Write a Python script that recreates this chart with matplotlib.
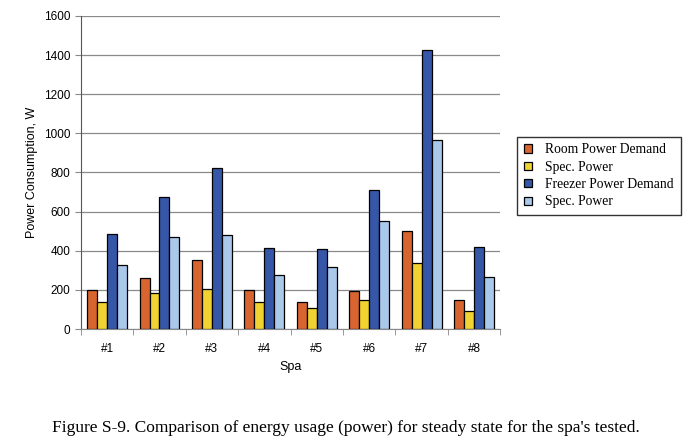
import numpy as np
import matplotlib.pyplot as plt

spas = ['#1', '#2', '#3', '#4', '#5', '#6', '#7', '#8']
room_demand = [200, 260, 353, 199, 137, 194, 502, 148]
room_spec = [138, 183, 205, 138, 107, 150, 338, 92]
freezer_demand = [485, 674, 824, 414, 410, 710, 1426, 419]
freezer_spec = [327, 469, 479, 277, 318, 551, 965, 265]

series = [
    ('Room Power Demand', room_demand, '#D8642F'),
    ('Spec. Power', room_spec, '#F0D232'),
    ('Freezer Power Demand', freezer_demand, '#3656A8'),
    ('Spec. Power', freezer_spec, '#A9C8EA'),
]

fig = plt.figure(figsize=(6.91, 4.4), dpi=100)
ax = fig.add_axes([0.117, 0.252, 0.607, 0.712])

x = np.arange(len(spas))
w = 0.19
for i, (name, vals, col) in enumerate(series):
    ax.bar(x + (i - 1.5) * w, vals, w, color=col, edgecolor='black', linewidth=0.9,
           label=name, zorder=3)

ax.set_xlim(-0.5, len(spas) - 0.5)
ax.set_ylim(0, 1600)
ax.set_yticks(range(0, 1601, 200))
ax.yaxis.grid(True, color='#8a8a8a', linewidth=0.9, zorder=0)
ax.set_xticks(x)
ax.set_xticklabels(spas)
ax.set_xticks(np.arange(-0.5, len(spas), 1), minor=True)
ax.tick_params(axis='x', which='major', length=0, pad=10)
ax.tick_params(axis='x', which='minor', length=4, color='#888888')
ax.tick_params(axis='y', length=4, color='#888888')
for lab in ax.get_xticklabels() + ax.get_yticklabels():
    lab.set_fontfamily('Liberation Sans')
    lab.set_fontsize(8.5)
for s in ['top', 'right']:
    ax.spines[s].set_visible(False)
ax.spines['left'].set_color('#555555')
ax.spines['bottom'].set_color('#888888')

ax.set_xlabel('Spa', fontfamily='Liberation Sans', fontsize=9)
ax.set_ylabel('Power Consumption, W', fontfamily='Liberation Sans', fontsize=9)

leg = fig.legend(loc='upper left', bbox_to_anchor=(0.739, 0.705), frameon=True,
                 prop={'family': 'Liberation Serif', 'size': 9.8},
                 handlelength=0.55, handleheight=0.55, handletextpad=1.0,
                 borderpad=0.5, labelspacing=0.32, fancybox=False)
leg.get_frame().set_edgecolor('black')
leg.get_frame().set_linewidth(1.0)

fig.text(0.5, 0.018, "Figure S-9. Comparison of energy usage (power) for steady state for the spa's tested.",
         ha='center', fontfamily='Liberation Serif', fontsize=12.5)

plt.savefig('out.png', dpi=100)
